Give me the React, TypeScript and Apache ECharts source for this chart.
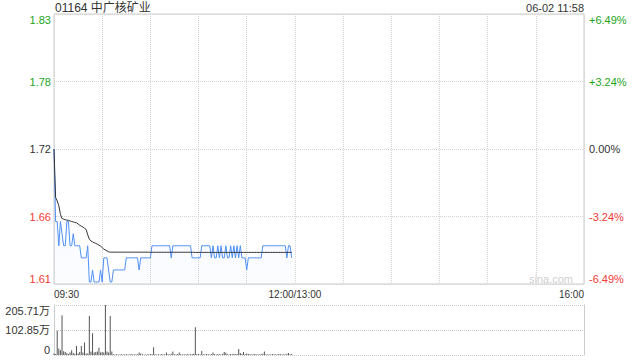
import React, { useEffect, useRef } from "react";
import * as echarts from "echarts";

const title = "01164 中广核矿业";
const stamp = "06-02 11:58";
const prevClose = 1.72;
const pctRange = 6.49;

// minutes since 09:30 label positions
const xLabelMinutes = [0, 150, 330];
const xLabels = ["09:30", "12:00/13:00", "16:00"];
const leftLabels = ["1.61", "1.66", "1.72", "1.78", "1.83"];
const rightLabels = ["-6.49%", "-3.24%", "0.00%", "+3.24%", "+6.49%"];
const volLabels = ["0", "102.85万", "205.71万"];
const volMax = 205.71;

const price = [
  1.72, 1.66, 1.66, 1.64, 1.66, 1.65, 1.64, 1.64, 1.66, 1.66,
  1.64, 1.64, 1.65, 1.64, 1.64, 1.64, 1.64, 1.63, 1.63, 1.63,
  1.63, 1.64, 1.61, 1.61, 1.62, 1.61, 1.61, 1.61, 1.61, 1.62,
  1.61, 1.63, 1.63, 1.63, 1.62, 1.61, 1.61, 1.62, 1.62, 1.62,
  1.62, 1.62, 1.62, 1.62, 1.62, 1.63, 1.63, 1.63, 1.63, 1.63,
  1.63, 1.63, 1.63, 1.62, 1.63, 1.63, 1.63, 1.63, 1.63, 1.63,
  1.63, 1.64, 1.64, 1.64, 1.64, 1.64, 1.64, 1.64, 1.64, 1.64,
  1.64, 1.64, 1.64, 1.63, 1.64, 1.64, 1.64, 1.64, 1.64, 1.64,
  1.64, 1.64, 1.64, 1.64, 1.64, 1.64, 1.63, 1.63, 1.63, 1.63,
  1.63, 1.63, 1.64, 1.64, 1.64, 1.64, 1.64, 1.64, 1.63, 1.64,
  1.63, 1.63, 1.64, 1.63, 1.64, 1.63, 1.63, 1.64, 1.63, 1.63,
  1.64, 1.63, 1.64, 1.63, 1.64, 1.63, 1.64, 1.63, 1.63, 1.63,
  1.62, 1.63, 1.63, 1.63, 1.63, 1.63, 1.63, 1.63, 1.63, 1.63,
  1.64, 1.64, 1.64, 1.64, 1.64, 1.64, 1.64, 1.64, 1.64, 1.64,
  1.64, 1.64, 1.64, 1.64, 1.64, 1.63, 1.64, 1.64, 1.63,
];

const avgPrice = [
  1.72, 1.68, 1.677, 1.673, 1.666, 1.6625, 1.662, 1.6615, 1.6612, 1.661,
  1.6605, 1.66, 1.6597, 1.6593, 1.659, 1.658, 1.657, 1.6562, 1.6555, 1.6545,
  1.6535, 1.649, 1.6455, 1.644, 1.6432, 1.6425, 1.642, 1.6412, 1.6405, 1.6397,
  1.6385, 1.6372, 1.6365, 1.6357, 1.635, 1.6347, 1.6347, 1.6347, 1.6347, 1.6347,
  1.6347, 1.6347, 1.6347, 1.6347, 1.6347, 1.6347, 1.6347, 1.6347, 1.6347, 1.6347,
  1.6347, 1.6347, 1.6347, 1.6347, 1.6347, 1.6347, 1.6347, 1.6347, 1.6347, 1.6346,
  1.6346, 1.6346, 1.6346, 1.6346, 1.6346, 1.6346, 1.6346, 1.6346, 1.6346, 1.6346,
  1.6346, 1.6346, 1.6346, 1.6346, 1.6346, 1.6346, 1.6346, 1.6346, 1.6346, 1.6346,
  1.6346, 1.6346, 1.6346, 1.6346, 1.6346, 1.6346, 1.6346, 1.6346, 1.6345, 1.6345,
  1.6345, 1.6345, 1.6345, 1.6345, 1.6345, 1.6345, 1.6345, 1.6345, 1.6345, 1.6345,
  1.6345, 1.6345, 1.6345, 1.6345, 1.6345, 1.6345, 1.6345, 1.6345, 1.6345, 1.6345,
  1.6345, 1.6345, 1.6345, 1.6345, 1.6345, 1.6345, 1.6345, 1.6345, 1.6345, 1.6345,
  1.6345, 1.6345, 1.6345, 1.6345, 1.6345, 1.6345, 1.6345, 1.6345, 1.6345, 1.6345,
  1.6345, 1.6345, 1.6345, 1.6345, 1.6345, 1.6345, 1.6345, 1.6345, 1.6345, 1.6345,
  1.6345, 1.6345, 1.6345, 1.6345, 1.6345, 1.6345, 1.6345, 1.6345, 1.6345,
];

// volume in 万
const volume = [
  6, 4, 100, 27, 20, 164, 15, 12, 8, 4,
  10, 20, 8, 5, 37, 6, 12, 37, 10, 51,
  6, 6, 160, 14, 89, 10, 12, 14, 30, 10,
  12, 10, 205.71, 14, 10, 160, 14, 3, 2, 3,
  2, 2, 3, 2, 2, 3, 2, 2, 4, 2,
  3, 2, 3, 10, 6, 3, 2, 2, 3, 2,
  4, 3, 32, 3, 2, 3, 2, 4, 2, 3,
  10, 3, 2, 5, 14, 3, 2, 4, 10, 3,
  2, 3, 2, 4, 2, 3, 4, 5, 114, 3,
  4, 2, 16, 3, 2, 4, 3, 2, 4, 10,
  3, 2, 4, 3, 2, 5, 12, 9, 3, 2,
  4, 3, 5, 3, 4, 25, 8, 4, 12, 3,
  6, 4, 3, 2, 3, 4, 2, 3, 2, 4,
  5, 14, 3, 2, 3, 2, 4, 2, 3, 2,
  4, 3, 2, 3, 2, 5, 8, 3, 4,
];

const GREEN = "#1ba51b";
const RED = "#f23a36";
const DARK = "#333";
const FONT = "Arial, 'Liberation Sans', 'Noto Sans CJK SC', sans-serif";

export default function App() {
  const ref = useRef<HTMLDivElement>(null);
  useEffect(() => {
    if (!ref.current) return;
    const chart = echarts.init(ref.current, undefined, { renderer: "svg" });
    const step = pctRange / 2;
    const pctIdx = (v: number) => Math.round(v / step) + 2;
    const pctColor = (v: any) => {
      const n = Number(v);
      return n > 0.01 ? GREEN : n < -0.01 ? RED : DARK;
    };
    const volStep = volMax / 2;
    const option: any = {
      animation: false,
      textStyle: { fontFamily: FONT },
      grid: [
        { left: 54, right: 56, top: 14, height: 270, show: true, borderColor: "#ccc", borderWidth: 1 },
        { left: 54, right: 56, top: 305, height: 50, show: false },
      ],
      xAxis: [
        {
          gridIndex: 0,
          type: "value",
          min: 0,
          max: 330,
          interval: 30,
          axisLine: { show: false },
          axisTick: { show: false },
          splitLine: { show: true, lineStyle: { color: "#d4d4d4", type: [1, 1] } },
          axisLabel: {
            color: DARK,
            fontSize: 10,
            fontFamily: FONT,
            margin: 5,
            alignMinLabel: "left",
            alignMaxLabel: "right",
            formatter: (v: number) => {
              const i = xLabelMinutes.indexOf(Math.round(v));
              return i >= 0 ? xLabels[i] : "";
            },
          },
        },
        { gridIndex: 1, type: "value", min: 0, max: 330, show: false },
      ],
      yAxis: [
        {
          gridIndex: 0,
          type: "value",
          position: "left",
          min: -pctRange,
          max: pctRange,
          interval: step,
          axisLine: { show: false },
          axisTick: { show: false },
          splitLine: { show: true, lineStyle: { color: "#d4d4d4", type: [1, 1] } },
          axisLabel: {
            fontSize: 11,
            fontFamily: FONT,
            margin: 3,
            verticalAlignMinLabel: "bottom",
            verticalAlignMaxLabel: "top",
            color: pctColor,
            formatter: (v: number) => leftLabels[pctIdx(v)] ?? "",
          },
        },
        {
          gridIndex: 0,
          type: "value",
          position: "right",
          min: -pctRange,
          max: pctRange,
          interval: step,
          axisLine: { show: false },
          axisTick: { show: false },
          splitLine: { show: false },
          axisLabel: {
            fontSize: 11,
            fontFamily: FONT,
            margin: 5,
            verticalAlignMinLabel: "bottom",
            verticalAlignMaxLabel: "top",
            color: pctColor,
            formatter: (v: number) => rightLabels[pctIdx(v)] ?? "",
          },
        },
        {
          gridIndex: 0,
          type: "value",
          min: prevClose * (1 - pctRange / 100),
          max: prevClose * (1 + pctRange / 100),
          show: false,
        },
        {
          gridIndex: 1,
          type: "value",
          position: "left",
          min: 0,
          max: volMax,
          interval: volStep,
          axisLine: { show: true, lineStyle: { color: "#ccc" } },
          axisTick: { show: false },
          splitLine: { show: true, lineStyle: { color: "#c8c8c8", type: [1, 1] } },
          axisLabel: {
            fontSize: 11,
            fontFamily: FONT,
            margin: 4,
            color: DARK,
            verticalAlignMinLabel: "bottom",
            verticalAlignMaxLabel: "top",
            formatter: (v: number) => volLabels[Math.round(v / volStep)] ?? "",
          },
        },
        {
          gridIndex: 1,
          type: "value",
          position: "right",
          min: 0,
          max: volMax,
          axisLine: { show: true, lineStyle: { color: "#ccc" } },
          axisTick: { show: false },
          axisLabel: { show: false },
          splitLine: { show: false },
        },
      ],
      series: [
        {
          name: "价格",
          type: "line",
          xAxisIndex: 0,
          yAxisIndex: 2,
          data: price.map((p, i) => [i, p]),
          showSymbol: false,
          lineStyle: { color: "#5090f5", width: 1 },
          areaStyle: {
            origin: "start",
            color: new echarts.graphic.LinearGradient(0, 0, 0, 1, [
              { offset: 0, color: "rgba(80,144,245,0.10)" },
              { offset: 1, color: "rgba(80,144,245,0.03)" },
            ]),
          },
          z: 2,
        },
        {
          name: "均价",
          type: "line",
          xAxisIndex: 0,
          yAxisIndex: 2,
          data: avgPrice.map((p, i) => [i, p]),
          showSymbol: false,
          lineStyle: { color: "#333", width: 1 },
          z: 3,
        },
        {
          name: "成交量",
          type: "bar",
          xAxisIndex: 1,
          yAxisIndex: 3,
          data: volume.map((v, i) => [i, v]),
          barWidth: 1,
          itemStyle: { color: "#555" },
        },
      ],
      graphic: [
        {
          type: "text",
          left: 55,
          top: 2,
          style: { text: title, fill: DARK, font: `12px ${FONT}` },
        },
        {
          type: "text",
          right: 56,
          top: 2,
          style: { text: stamp, fill: DARK, font: `11px ${FONT}` },
        },
        {
          type: "text",
          right: 67,
          top: 273,
          style: { text: "sina.com", fill: "#cfcfcf", font: `11px ${FONT}` },
        },
      ],
    };
    chart.setOption(option);
    return () => chart.dispose();
  }, []);
  return (
    <div
      ref={ref}
      style={{ position: "fixed", left: 0, top: 0, width: 640, height: 360, background: "#fff" }}
    />
  );
}
